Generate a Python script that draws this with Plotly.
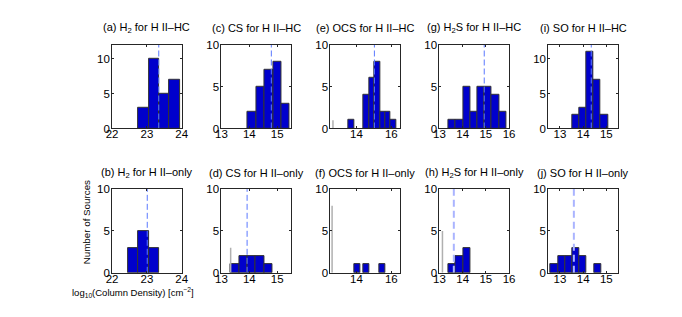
import plotly.graph_objects as go

W, H = 682, 317

# ---------------- data ----------------
titles = [
    "(a) H<sub>2</sub> for H II–HC", "(b) H<sub>2</sub> for H II–only",
    "(c) CS for H II–HC", "(d) CS for H II–only",
    "(e) OCS for H II–HC", "(f) OCS for H II–only",
    "(g) H<sub>2</sub>S for H II–HC", "(h) H<sub>2</sub>S for H II–only",
    "(i) SO for H II–HC", "(j) SO for H II–only",
]

h2_hc_bins = [22.9, 23.2, 23.5, 23.8]
h2_hc_counts = [3, 10, 5, 7]
h2_only_bins = [22.6, 22.9, 23.2]
h2_only_counts = [3, 5, 3]

cs_hc_bins = [14.1, 14.4, 14.7, 15.0, 15.3]
cs_hc_counts = [2, 5, 7, 8, 3]
cs_only_bins = [13.48, 13.78, 14.08, 14.38, 14.68]
cs_only_counts = [1, 2, 2, 2, 1]

ocs_hc_bins = [13.70, 14.575, 14.885, 15.195, 15.505, 15.815, 16.125]
ocs_hc_counts = [1, 4, 6, 8, 2, 2, 1]
ocs_only_bins = [14.05, 14.57, 15.48]
ocs_only_counts = [1, 1, 1]

h2s_hc_bins = [13.555, 13.865, 14.175, 14.485, 14.795, 15.105, 15.415, 15.725]
h2s_hc_counts = [1, 1, 5, 2, 5, 5, 4, 2]
h2s_only_bins = [13.555, 13.865, 14.175]
h2s_only_counts = [1, 2, 3]

so_hc_bins = [13.675, 13.985, 14.295, 14.605, 14.915]
so_hc_counts = [2, 3, 11, 7, 2]
so_only_bins = [12.755, 13.065, 13.375, 13.685, 13.995, 14.615]
so_only_counts = [1, 2, 2, 3, 2, 1]

bin_widths = [0.3, 0.3, 0.3, 0.3, 0.31, 0.31, 0.31, 0.31, 0.31, 0.31]

# median (dashed line) values, None when absent
medians = [23.34, 23.01, 14.79, 13.92, 15.03, None, 14.93, 13.62, 14.35, 13.6]
# upper-limit (grey line) positions and counts, None when absent
limit_x = [None, None, None, 13.33, 12.65, 12.6, None, 13.13, None, None]
limit_n = [None, None, None, 3, 1, 8, None, 5, None, None]

x_ranges = [[22, 24], [22, 24], [13, 15.5], [13, 15.5], [12.5, 16.5], [12.5, 16.5],
            [13, 16], [13, 16], [12.5, 15.5], [12.5, 15.5]]
x_ticks = [[22, 23, 24], [22, 23, 24], [13, 14, 15], [13, 14, 15], [14, 16], [14, 16],
           [13, 14, 15, 16], [13, 14, 15, 16], [13, 14, 15], [13, 14, 15]]
y_max = [12, 10, 10, 10, 10, 10, 10, 10, 12, 10]
y_ticks = [0, 5, 10]

bins = [h2_hc_bins, h2_only_bins, cs_hc_bins, cs_only_bins, ocs_hc_bins, ocs_only_bins,
        h2s_hc_bins, h2s_only_bins, so_hc_bins, so_only_bins]
counts = [h2_hc_counts, h2_only_counts, cs_hc_counts, cs_only_counts, ocs_hc_counts,
          ocs_only_counts, h2s_hc_counts, h2s_only_counts, so_hc_counts, so_only_counts]

# ---------------- layout geometry (pixels) ----------------
col_left = [100, 211.5, 322.5, 433.7, 544.7]
pw = 71
row_top = [32, 182]
ph = 87

FONT = "Liberation Sans, Arial, Helvetica, sans-serif"
fig = go.Figure()
layout = dict(
    width=W, height=H, margin=dict(l=0, r=0, t=0, b=0),
    paper_bgcolor="white", plot_bgcolor="white", showlegend=False,
    font=dict(family=FONT, size=11, color="#000000"),
)
annotations = []

for i in range(10):
    col, row = i // 2, i % 2
    k = "" if i == 0 else str(i + 1)
    xa, ya = "x" + k, "y" + k
    x0 = col_left[col] / W
    x1 = (col_left[col] + pw) / W
    y1 = 1 - row_top[row] / H
    y0 = 1 - (row_top[row] + ph) / H
    axis_common = dict(showline=True, linecolor="#262626", linewidth=1, mirror="ticks",
                       ticks="inside", ticklen=2, tickcolor="#262626", showgrid=False,
                       zeroline=False, tickfont=dict(size=11.5, family=FONT))
    layout["xaxis" + k] = dict(domain=[x0, x1], range=x_ranges[i], anchor=ya,
                               tickvals=x_ticks[i], ticklabelstandoff=-5, **axis_common)
    layout["yaxis" + k] = dict(domain=[y0, y1], range=[0, y_max[i]], anchor=xa,
                               tickvals=y_ticks, ticklabelstandoff=-1, **axis_common)

    fig.add_trace(go.Bar(x=bins[i], y=counts[i], width=bin_widths[i], xaxis=xa, yaxis=ya,
                         marker=dict(color="#0000cc", line=dict(color="#333333", width=1))))
    if limit_x[i] is not None:
        fig.add_trace(go.Scatter(x=[limit_x[i], limit_x[i]], y=[0, limit_n[i]], mode="lines",
                                 line=dict(color="#b0b0b0", width=1.5), xaxis=xa, yaxis=ya,
                                 hoverinfo="skip"))
    if medians[i] is not None:
        light = i in (7, 9)
        fig.add_trace(go.Scatter(x=[medians[i], medians[i]], y=[0, y_max[i]], mode="lines",
                                 line=dict(color="#aab4ff" if light else "#5a78ff",
                                           width=2 if light else 1,
                                           dash="7px,4px" if light else "6px,3px"),
                                 xaxis=xa, yaxis=ya, hoverinfo="skip"))
    annotations.append(dict(text=titles[i], x=(col_left[col] + pw / 2) / W,
                            y=1 - (row_top[row] - 17) / H, xref="paper", yref="paper",
                            xanchor="center", yanchor="middle", showarrow=False,
                            font=dict(size=11, family=FONT)))

annotations.append(dict(text="Number of Sources", textangle=-90, x=74 / W, y=1 - 217 / H,
                        xref="paper", yref="paper", xanchor="center", yanchor="middle",
                        showarrow=False, font=dict(size=9.8, family=FONT)))
annotations.append(dict(text="log<sub>10</sub>(Column Density) [cm<sup>−2</sup>]",
                        x=121 / W, y=1 - 289 / H, xref="paper", yref="paper",
                        xanchor="center", yanchor="middle", showarrow=False,
                        font=dict(size=9.5, family=FONT)))
layout["annotations"] = annotations
layout["bargap"] = 0
fig.update_layout(**layout)
fig.write_html("out.html")
